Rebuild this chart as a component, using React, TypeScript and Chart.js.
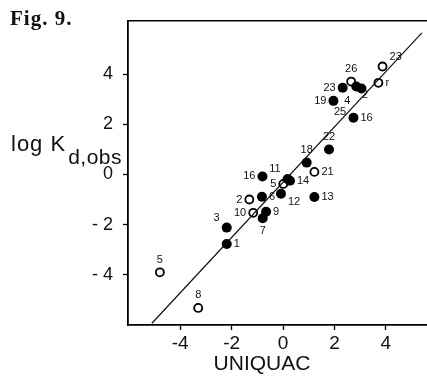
import React, { useEffect, useRef } from "react";
import { Chart, registerables } from "chart.js";

Chart.register(...registerables);

// ---- data ----
const filledX = [-2.19, -2.19, -0.79, -0.66, -0.82, -0.08, 1.22, -0.8, 0.18, 0.27, 0.92, 1.79, 2.74, 1.96, 2.32, 2.85, 3.05];
const filledY = [-2.77, -2.12, -1.75, -1.49, -0.89, -0.77, -0.9, -0.08, -0.18, -0.25, 0.47, 0.99, 2.26, 2.93, 3.45, 3.5, 3.42];
const filledLabels = ["1", "3", "7", "9", "6", "12", "13", "16", "11", "14", "18", "22", "16", "19", "23", "", ""];
const filledSide = ["r", "tl", "b", "r", "r", "br", "r", "l", "tl", "r", "t", "t", "r", "l", "l", "", ""];

const openX = [3.87, 3.71, 2.65, 1.22, 0.01, -1.31, -1.16, -4.79, -3.3];
const openY = [4.3, 3.65, 3.7, 0.1, -0.38, -1.0, -1.53, -3.9, -5.32];
const openLabels = ["23", "r", "26", "21", "5", "2", "10", "5", "8"];
const openSide = ["tr", "r", "t", "r", "l", "l", "l", "t", "t"];

const freeLabelX = [2.22, 2.5, 3.19];
const freeLabelY = [2.5, 2.94, 3.15];
const freeLabels = ["25", "4", "2"];

const lineX = [-5.1, 5.4];
const lineY = [-5.93, 5.64];

const xTicks = [-4, -2, 0, 2, 4];
const xTickLabels = ["-4", "-2", "0", "2", "4"];
const yTicks = [-4, -2, 0, 2, 4];
const yTickLabels = ["- 4", "- 2", "0", "2", "4"];

const figLabel = "Fig. 9.";
const xTitle = "UNIQUAC";
const yTitleMain = "log K";
const yTitleSub = "d,obs";

const SANS = "'Liberation Sans', Arial, sans-serif";

const labelPlugin = {
  id: "pointLabels",
  afterDatasetsDraw(chart: any) {
    const { ctx, scales } = chart;
    const xs = scales.x;
    const ys = scales.y;
    ctx.save();
    ctx.fillStyle = "#111";
    ctx.font = `11px ${SANS}`;
    const draw = (x: number, y: number, text: string, side: string) => {
      if (!text) return;
      const px = xs.getPixelForValue(x);
      const py = ys.getPixelForValue(y);
      let tx = px, ty = py;
      let align: CanvasTextAlign = "center";
      let base: CanvasTextBaseline = "middle";
      const d = 7;
      if (side.includes("r")) { tx = px + d; align = "left"; }
      if (side.includes("l")) { tx = px - d; align = "right"; }
      if (side.includes("t")) { ty = py - (side.length > 1 ? 4 : d); base = "bottom"; }
      if (side.includes("b")) { ty = py + (side.length > 1 ? 3 : d); base = "top"; }
      ctx.textAlign = align;
      ctx.textBaseline = base;
      ctx.fillText(text, tx, ty);
    };
    filledLabels.forEach((t, i) => draw(filledX[i], filledY[i], t, filledSide[i]));
    openLabels.forEach((t, i) => draw(openX[i], openY[i], t, openSide[i]));
    freeLabels.forEach((t, i) => draw(freeLabelX[i], freeLabelY[i], t, "c"));
    ctx.restore();
  },
};

const framePlugin = {
  id: "frameAndTitles",
  afterDraw(chart: any) {
    const { ctx, chartArea } = chart;
    ctx.save();
    ctx.strokeStyle = "#000";
    ctx.lineWidth = 1.6;
    ctx.beginPath();
    ctx.moveTo(chartArea.left, chartArea.top);
    ctx.lineTo(chartArea.right, chartArea.top);
    ctx.stroke();

    ctx.fillStyle = "#111";
    ctx.textAlign = "left";
    ctx.textBaseline = "alphabetic";
    ctx.font = `bold 21px 'Liberation Serif', 'Times New Roman', serif`;
    (ctx as any).letterSpacing = "1px";
    ctx.fillText(figLabel, 10, 25);

    (ctx as any).letterSpacing = "0px";
    ctx.font = `21px ${SANS}`;
    ctx.textAlign = "center";
    ctx.fillText(xTitle, 262, 370);

    ctx.textAlign = "left";
    ctx.font = `22px ${SANS}`;
    (ctx as any).letterSpacing = "1px";
    ctx.fillText(yTitleMain, 11, 151);
    const w = ctx.measureText(yTitleMain).width;
    ctx.font = `21px ${SANS}`;
    (ctx as any).letterSpacing = "0.5px";
    ctx.fillText(yTitleSub, 11 + w + 2, 164);
    ctx.restore();
  },
};

export default function App() {
  const ref = useRef<HTMLCanvasElement | null>(null);
  useEffect(() => {
    if (!ref.current) return;
    const chart = new Chart(ref.current, {
      type: "scatter",
      data: {
        datasets: [
          {
            type: "line",
            data: lineX.map((x, i) => ({ x, y: lineY[i] })),
            borderColor: "#111",
            borderWidth: 1.2,
            pointRadius: 0,
            fill: false,
          } as any,
          {
            data: filledX.map((x, i) => ({ x, y: filledY[i] })),
            backgroundColor: "#000",
            borderColor: "#000",
            pointRadius: 5,
            borderWidth: 0,
          },
          {
            data: openX.map((x, i) => ({ x, y: openY[i] })),
            backgroundColor: "#fff",
            borderColor: "#000",
            pointRadius: 4,
            borderWidth: 1.8,
          },
        ],
      },
      options: {
        responsive: false,
        animation: false,
        layout: { autoPadding: false, padding: { top: 13, right: 0, left: 0, bottom: 0 } },
        plugins: { legend: { display: false }, tooltip: { enabled: false } },
        scales: {
          x: {
            type: "linear",
            min: -6.03,
            max: 5.6,
            afterBuildTicks: (s: any) => { s.ticks = xTicks.map((v) => ({ value: v })); },
            afterFit: (s: any) => { s.height = 57; },
            grid: { drawOnChartArea: false, tickLength: 5, color: "#000", tickWidth: 1.3 },
            border: { color: "#000", width: 1.8 },
            ticks: {
              color: "#111",
              padding: 2,
              maxRotation: 0,
              font: { size: 19, family: SANS },
              callback: (v: any) => xTickLabels[xTicks.indexOf(Number(v))] ?? "",
            },
          },
          y: {
            type: "linear",
            min: -6.0,
            max: 6.12,
            afterBuildTicks: (s: any) => { s.ticks = yTicks.map((v) => ({ value: v })); },
            afterFit: (s: any) => { s.width = 128; },
            grid: { drawOnChartArea: false, tickLength: 5, color: "#000", tickWidth: 1.3 },
            border: { color: "#000", width: 1.8 },
            ticks: {
              color: "#111",
              padding: 10,
              font: { size: 18, family: SANS },
              callback: (v: any) => yTickLabels[yTicks.indexOf(Number(v))] ?? "",
            },
          },
        },
      },
      plugins: [labelPlugin, framePlugin],
    });
    return () => chart.destroy();
  }, []);
  return (
    <div style={{ position: "fixed", left: 0, top: 0, width: 427, height: 382, background: "#fff" }}>
      <canvas ref={ref} width={427} height={382} style={{ width: 427, height: 382, display: "block" }} />
    </div>
  );
}
